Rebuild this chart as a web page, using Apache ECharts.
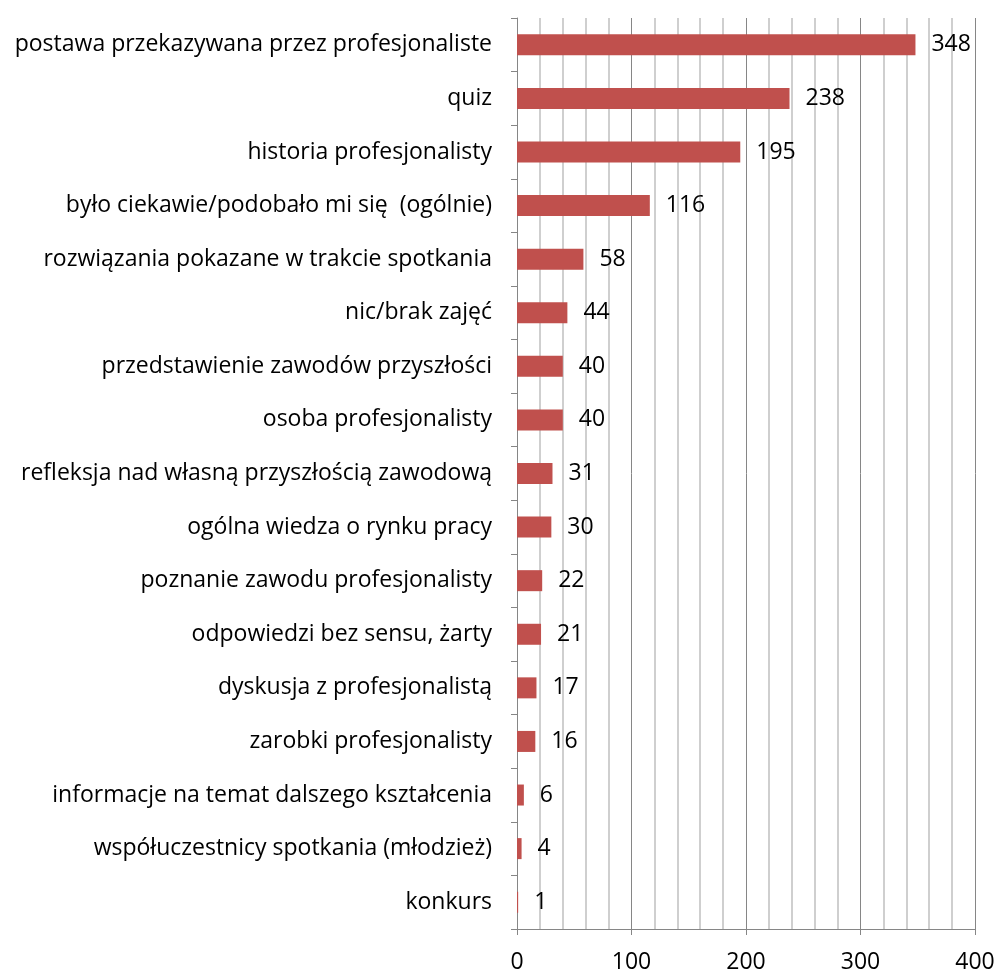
<!DOCTYPE html>
<html>
<head>
<meta charset="utf-8">
<script src="https://cdn.jsdelivr.net/npm/echarts@6/dist/echarts.min.js"></script>
<style>
  html, body { margin: 0; padding: 0; background: #fff; }
  #chart { width: 999px; height: 974px; }
</style>
</head>
<body>
<div id="chart"></div>
<script>
// categories from top to bottom
const categories = [
  'postawa przekazywana przez profesjonaliste',
  'quiz',
  'historia profesjonalisty',
  'było ciekawie/podobało mi się  (ogólnie)',
  'rozwiązania pokazane w trakcie spotkania',
  'nic/brak zajęć',
  'przedstawienie zawodów przyszłości',
  'osoba profesjonalisty',
  'refleksja nad własną przyszłością zawodową',
  'ogólna wiedza o rynku pracy',
  'poznanie zawodu profesjonalisty',
  'odpowiedzi bez sensu, żarty',
  'dyskusja z profesjonalistą',
  'zarobki profesjonalisty',
  'informacje na temat dalszego kształcenia',
  'współuczestnicy spotkania (młodzież)',
  'konkurs'
];
const values = [348, 238, 195, 116, 58, 44, 40, 40, 31, 30, 22, 21, 17, 16, 6, 4, 1];

const chart = echarts.init(document.getElementById('chart'));
const font = 'Open Sans, Noto Sans, sans-serif';

chart.setOption({
  animation: false,
  grid: { left: 517, right: 24, top: 18, bottom: 45 },
  xAxis: {
    type: 'value',
    min: 0,
    max: 400,
    interval: 100,
    axisLine: { show: true, lineStyle: { color: '#868686', width: 1 } },
    axisTick: { show: true, length: 6, lineStyle: { color: '#868686' } },
    axisLabel: { fontSize: 23, color: '#000', fontFamily: font, margin: 22 },
    splitLine: { show: true, lineStyle: { color: '#868686', width: 1 } },
    minorTick: { show: false, splitNumber: 5 },
    minorSplitLine: { show: true, lineStyle: { color: '#c0c0c0', width: 1.5 } }
  },
  yAxis: {
    type: 'category',
    data: categories,
    inverse: true,
    axisLine: { show: true, lineStyle: { color: '#868686', width: 1 } },
    axisTick: { show: true, length: 6, lineStyle: { color: '#868686' } },
    axisLabel: { fontSize: 23, color: '#000', fontFamily: font, margin: 25 },
    splitLine: { show: false }
  },
  series: [
    {
      type: 'bar',
      data: values,
      barWidth: 21,
      itemStyle: { color: '#C0504D' },
      label: {
        show: true,
        position: 'right',
        distance: 16,
        fontSize: 23,
        color: '#000',
        fontFamily: font
      }
    }
  ]
});
</script>
</body>
</html>
